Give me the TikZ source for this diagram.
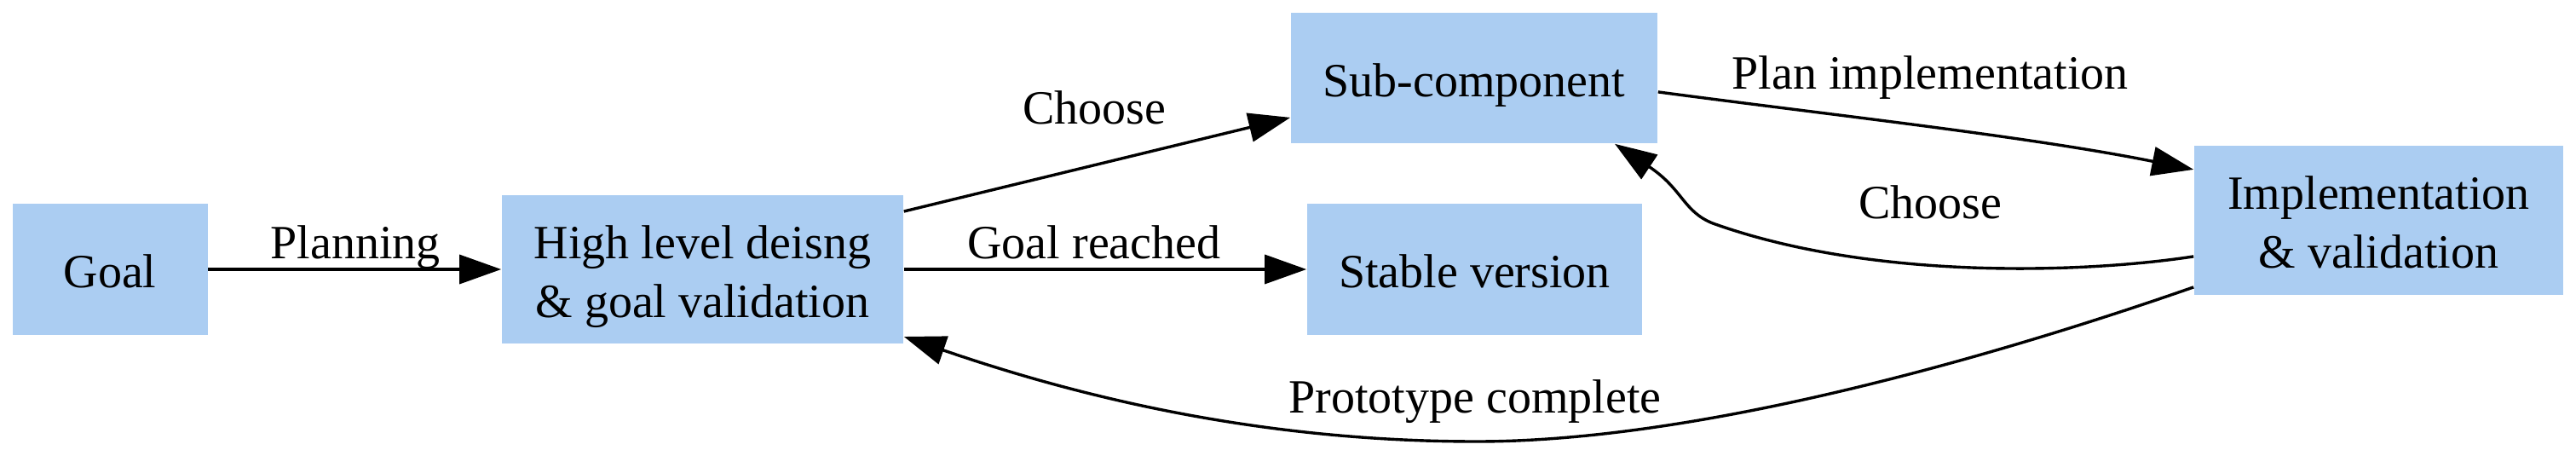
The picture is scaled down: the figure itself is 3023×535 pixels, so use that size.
\documentclass[tikz,border=0pt]{standalone}
\usepackage{fontspec}
\setmainfont{Liberation Serif}
\usetikzlibrary{arrows.meta}
\definecolor{boxblue}{RGB}{171,205,242}
\begin{document}
\begin{tikzpicture}[x=0.25pt,y=-0.25pt,
  every node/.style={font=\fontsize{14pt}{17.25pt}\selectfont},
  box/.style={rectangle, fill=boxblue, inner sep=0pt, align=center,
    text height=12pt, text depth=1.2pt},
  twoline/.style={text height=29.25pt, text depth=1.2pt},
  lbl/.style={anchor=base, inner sep=0pt},
  conn/.style={line width=0.85pt, -{Triangle[length=12.25pt,width=8.5pt]}}]
\useasboundingbox (0,0) rectangle (3023,535);
% nodes
\node[box, minimum width=57.25pt, minimum height=38.5pt] (goal) at (129,316) {Goal};
\node[box, twoline, minimum width=117.75pt, minimum height=43.5pt] (hl) at (824.5,316) {High level deisng\\ \& goal validation};
\node[box, minimum width=107.5pt, minimum height=38.25pt] (sc) at (1730,91.5) {Sub-component};
\node[box, minimum width=98.25pt, minimum height=38.5pt] (stable) at (1730.5,316) {Stable version};
\node[box, twoline, minimum width=108.25pt, minimum height=43.75pt] (impl) at (2791.5,258.5) {Implementation\\ \& validation};
% labels
\node[lbl] (lplan) at (417,303) {Planning};
\node[lbl] (lchoose1) at (1284,145) {Choose};
\node[lbl] (lgoal) at (1284,303) {Goal reached};
\node[lbl] (lplanimpl) at (2265,104) {Plan implementation};
\node[lbl] (lchoose2) at (2265,256) {Choose};
\node[lbl] (lproto) at (1731,484) {Prototype complete};
% connectors
\draw[conn] (goal.east) -- (hl.west);
\draw[conn] (hl.east) -- (stable.west);
\draw[conn] ([yshift=17pt]hl.east) -- ([yshift=-11.6pt]sc.west);
\draw[conn] ([yshift=-4.1pt]sc.east) .. controls (2150,135) and (2380,160) .. ([yshift=14.9pt]impl.west);
\draw[conn] ([yshift=-10.6pt]impl.west) .. controls (2450,320) and (2200,330) .. (2010,262)
  .. controls (1975,248) and (1975,222) .. ([xshift=41.25pt]sc.south);
\draw[conn] ([yshift=-19.6pt]impl.west) .. controls (2350,415) and (2000,518) .. (1733,518)
  .. controls (1466,518) and (1250,460) .. ([yshift=-19.75pt]hl.east);
\end{tikzpicture}
\end{document}
